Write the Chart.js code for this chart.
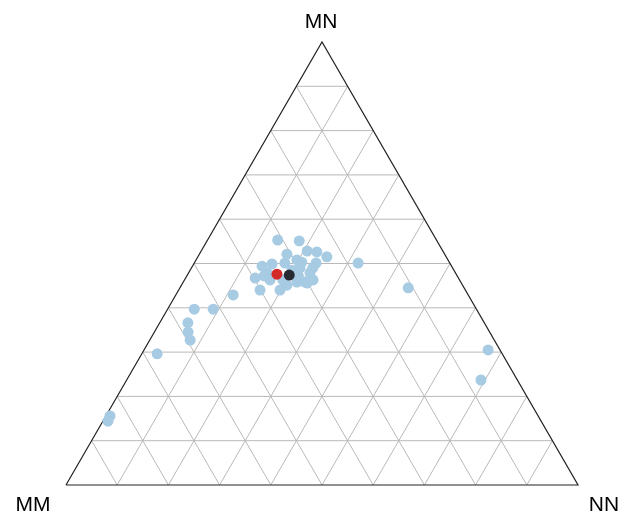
<!DOCTYPE html>
<html>
<head>
<meta charset="utf-8">
<script src="https://cdn.jsdelivr.net/npm/chart.js@4"></script>
<style>
  html, body { margin: 0; padding: 0; background: #fff; }
  #wrap { width: 624px; height: 516px; }
</style>
</head>
<body>
<div id="wrap"><canvas id="ternary"></canvas></div>
<script>
// corner labels
const corners = ['MM', 'MN', 'NN'];

// compositions (fractions) for each sample
const mm = [0.310, 0.269, 0.265, 0.247, 0.233, 0.308, 0.179, 0.295, 0.288, 0.261,
            0.370, 0.348, 0.397, 0.284, 0.301, 0.316, 0.298, 0.273, 0.401, 0.362,
            0.343, 0.320, 0.304, 0.459, 0.368, 0.551, 0.514, 0.579, 0.589, 0.594,
            0.674, 0.836, 0.846, 0.109, 0.023, 0.071, 0.377, 0.310, 0.322, 0.345,
            0.370, 0.286];
const mn = [0.553, 0.551, 0.528, 0.526, 0.515, 0.521, 0.501, 0.508, 0.503, 0.501,
            0.494, 0.499, 0.467, 0.479, 0.456, 0.485, 0.490, 0.490, 0.440, 0.440,
            0.451, 0.458, 0.458, 0.429, 0.479, 0.397, 0.397, 0.366, 0.345, 0.327,
            0.296, 0.156, 0.144, 0.445, 0.305, 0.237, 0.472, 0.474, 0.501, 0.463,
            0.463, 0.463];
const nn = [0.137, 0.180, 0.207, 0.227, 0.252, 0.171, 0.320, 0.197, 0.209, 0.238,
            0.136, 0.153, 0.136, 0.237, 0.243, 0.199, 0.212, 0.237, 0.159, 0.198,
            0.206, 0.222, 0.238, 0.112, 0.153, 0.052, 0.089, 0.055, 0.066, 0.079,
            0.030, 0.008, 0.010, 0.446, 0.672, 0.692, 0.151, 0.216, 0.177, 0.192,
            0.167, 0.251];

// two highlighted samples
const redPoint = [0.350, 0.476, 0.174];   // MM, MN, NN
const darkPoint = [0.327, 0.474, 0.199];

// grid ticks
const gridTicks = [0.1, 0.2, 0.3, 0.4, 0.5, 0.6, 0.7, 0.8, 0.9];

const H = Math.sqrt(3) / 2;

// ternary -> cartesian (MM bottom-left, NN bottom-right, MN top)
function toXY(a, b, c) {
    const s = a + b + c;
    b /= s; c /= s;
    return { x: c + b / 2, y: b * H };
}

function gridDatasets() {
    const sets = [];
    gridTicks.forEach(t => {
        // constant MN (horizontal)
        sets.push([toXY(1 - t, t, 0), toXY(0, t, 1 - t)]);
        // constant NN
        sets.push([toXY(1 - t, 0, t), toXY(0, 1 - t, t)]);
        // constant MM
        sets.push([toXY(t, 1 - t, 0), toXY(t, 0, 1 - t)]);
    });
    return sets.map(pts => ({
        type: 'line',
        data: pts,
        borderColor: '#b9b9b9',
        borderWidth: 1,
        pointRadius: 0,
        fill: false,
        order: 5
    }));
}

const samplePoints = mm.map((v, i) => toXY(v, mn[i], nn[i]));

const labelPlugin = {
    id: 'cornerLabels',
    afterDraw(chart) {
        const ctx = chart.ctx;
        ctx.save();
        ctx.fillStyle = '#000000';
        ctx.font = '21px "Liberation Sans", Arial, sans-serif';
        ctx.textAlign = 'center';
        ctx.textBaseline = 'alphabetic';
        ctx.fillText(corners[1], 321, 28);
        ctx.fillText(corners[0], 33, 511);
        ctx.fillText(corners[2], 604, 511);
        ctx.restore();
    }
};

new Chart(document.getElementById('ternary'), {
    type: 'scatter',
    data: {
        datasets: [
            ...gridDatasets(),
            {
                type: 'line',
                data: [toXY(1, 0, 0), toXY(0, 0, 1), toXY(0, 1, 0), toXY(1, 0, 0)],
                borderColor: '#222222',
                borderWidth: 1.2,
                pointRadius: 0,
                fill: false,
                order: 4
            },
            {
                data: samplePoints,
                backgroundColor: '#a6cbe3',
                borderWidth: 0,
                pointRadius: 5.5,
                order: 2
            },
            {
                data: [toXY(...redPoint)],
                backgroundColor: '#d42a2a',
                borderWidth: 0,
                pointRadius: 5.5,
                order: 1
            },
            {
                data: [toXY(...darkPoint)],
                backgroundColor: '#272c33',
                borderWidth: 0,
                pointRadius: 5.5,
                order: 0
            }
        ]
    },
    options: {
        responsive: true,
        maintainAspectRatio: false,
        animation: false,
        clip: false,
        layout: { padding: { left: 66, right: 46, top: 42, bottom: 31 } },
        scales: {
            x: { type: 'linear', min: 0, max: 1, display: false },
            y: { type: 'linear', min: 0, max: H, display: false }
        },
        plugins: {
            legend: { display: false },
            tooltip: { enabled: false }
        }
    },
    plugins: [labelPlugin]
});
</script>
</body>
</html>
